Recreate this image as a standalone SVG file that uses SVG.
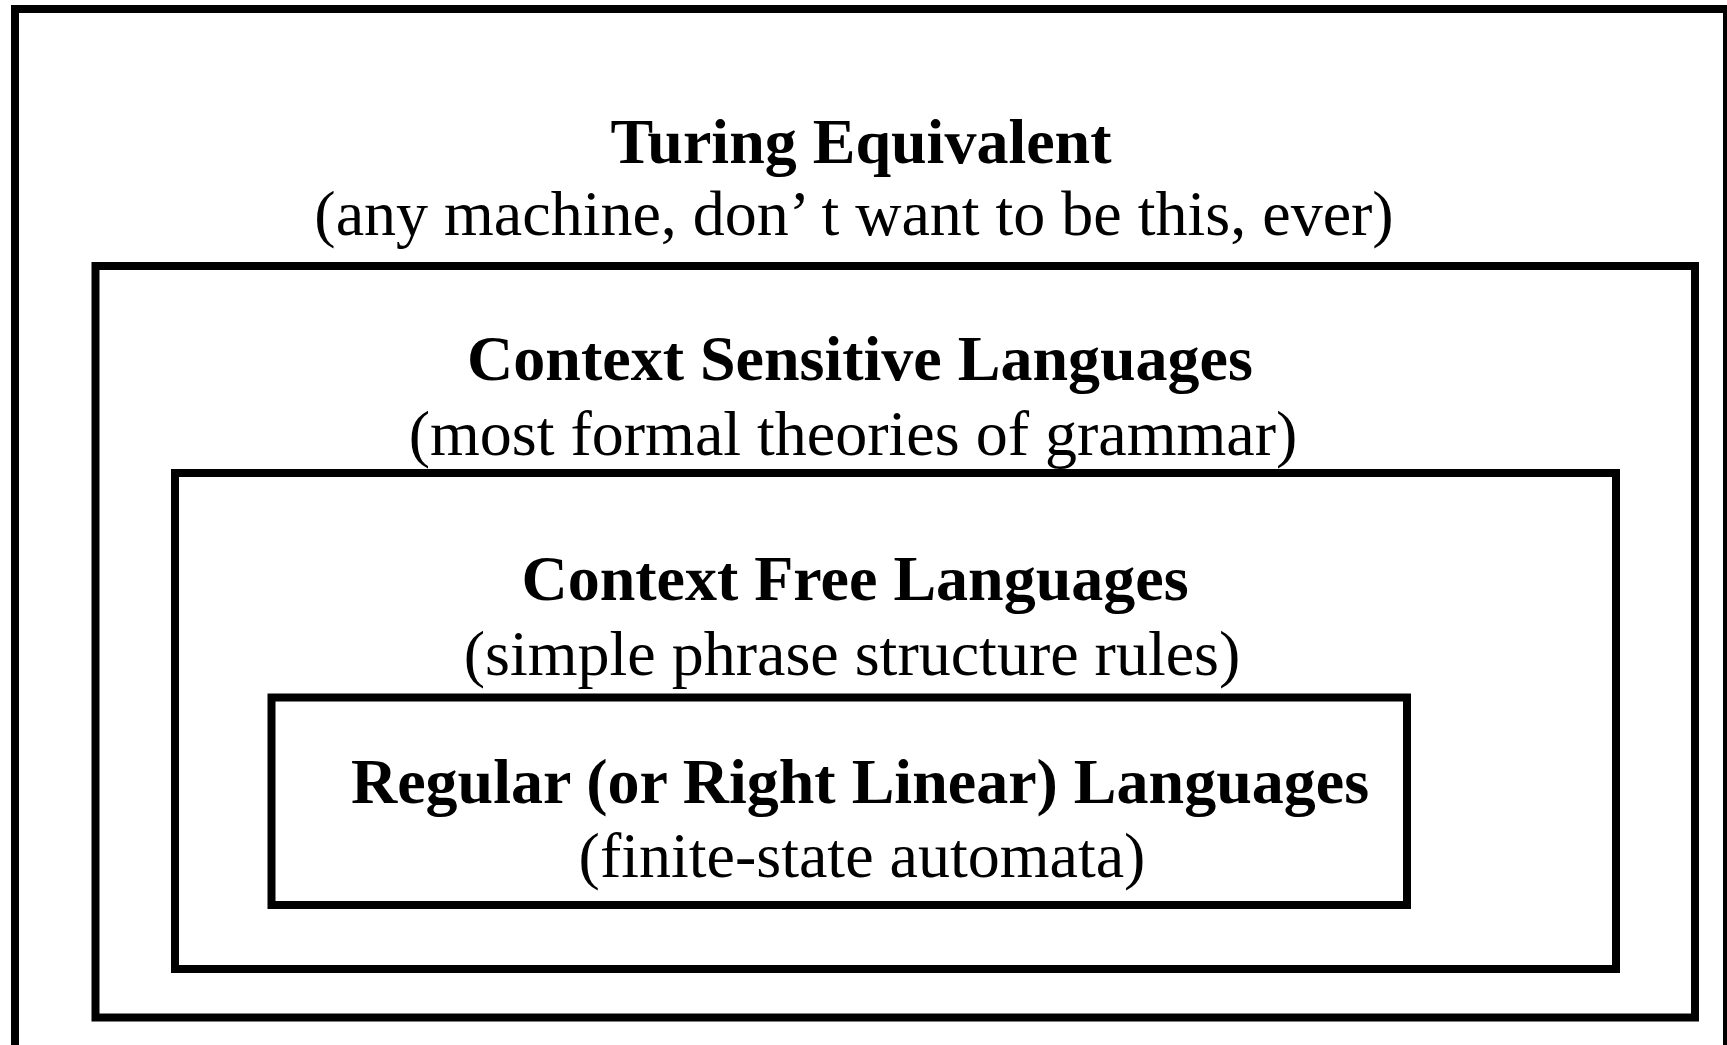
<svg xmlns="http://www.w3.org/2000/svg" width="1727" height="1045" viewBox="0 0 1727 1045">
<style>
.box{fill:none;stroke:#000;stroke-width:8}
.t{font-family:"Liberation Serif","Times New Roman",serif;font-size:64px;font-weight:bold;text-anchor:middle;fill:#000}
.s{font-family:"Liberation Serif","Times New Roman",serif;font-size:64px;text-anchor:middle;fill:#000}
</style>
<rect width="1727" height="1045" fill="#fff"/>
<g id="turing">
<rect class="box" x="15" y="9" width="1712" height="1060"/>
<text class="t" x="861" y="163">Turing Equivalent</text>
<text class="s" x="854" y="235">(any machine, don’ t want to be this, ever)</text>
</g>
<g id="csl">
<rect class="box" x="95.5" y="266" width="1599.5" height="751.5"/>
<text class="t" x="860" y="380">Context Sensitive Languages</text>
<text class="s" x="853" y="455">(most formal theories of grammar)</text>
</g>
<g id="cfl">
<rect class="box" x="175" y="473" width="1441" height="496"/>
<text class="t" x="855" y="600">Context Free Languages</text>
<text class="s" x="852" y="675">(simple phrase structure rules)</text>
</g>
<g id="regular">
<rect class="box" x="271.5" y="697.5" width="1135.5" height="207.5"/>
<text class="t" x="860" y="803">Regular (or Right Linear) Languages</text>
<text class="s" x="862" y="877">(finite-state automata)</text>
</g>
<g id="connectors"/>
</svg>
